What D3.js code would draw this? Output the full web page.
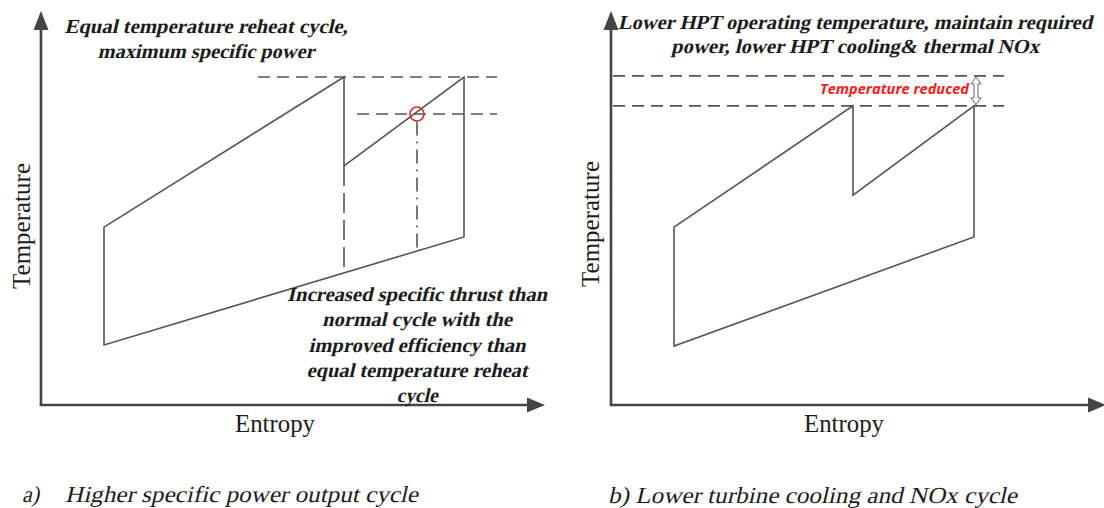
<!DOCTYPE html>
<html>
<head>
<meta charset="utf-8">
<script src="https://cdn.jsdelivr.net/npm/d3@7"></script>
<style>
  html, body { margin: 0; padding: 0; background: #fff; }
  svg { display: block; }
</style>
</head>
<body>
<svg id="chart" width="1104" height="508"></svg>
<script>
// ---- Panel a: higher specific power output cycle (T-s diagram) ----
const cycleA_entropy = [1.26, 1.26, 6.06, 6.06, 8.46, 8.46];
const cycleA_temp    = [1.54, 4.56, 8.41, 6.13, 8.41, 4.31];
// dashed isotherms: peak temperature and partial-reheat temperature
const isoA_temp = [8.41, 7.46];
const isoA_from = [4.34, 6.32];
const isoA_to   = [9.12, 9.12];
// partial reheat end point (circled)
const markA_entropy = [7.52];
const markA_temp    = [7.46];
// vertical dash-dot drop lines
const dropA_entropy = [6.06, 7.52];
const dropA_top     = [6.13, 7.27];
const dropA_bottom  = [3.38, 3.95];

// ---- Panel b: lower turbine cooling and NOx cycle ----
const cycleB_entropy = [1.26, 1.26, 4.84, 4.84, 7.26, 7.26];
const cycleB_temp    = [1.51, 4.56, 7.67, 5.38, 7.67, 4.31];
const isoB_temp = [8.44, 7.67];
const isoB_from = [0.04, 0.04];
const isoB_to   = [7.86, 7.86];
const reductionB_entropy = [7.30];
const reductionB_temp    = [8.44, 7.67];

// ---- Text ----
const titleA = ["Equal temperature reheat cycle,", "maximum specific power"];
const noteA  = ["Increased specific thrust than", "normal cycle with the",
                "improved efficiency than", "equal temperature reheat", "cycle"];
const titleB = ["Lower HPT operating temperature, maintain required",
                "power, lower HPT cooling& thermal NOx"];
const reducedLabel = "Temperature reduced";
const axisX = "Entropy", axisY = "Temperature";
const captionA = ["a)", "Higher specific power output cycle"];
const captionB = "b) Lower turbine cooling and NOx cycle";

const svg = d3.select("#chart");
const SERIF = "'Liberation Serif', 'Times New Roman', Times, serif";
const AXIS_COL = "#444";
const LINE_COL = "#555";
const TEXT_COL = "#1c1c1c";

function makePanel(x0, xTip) {
  const x = d3.scaleLinear().domain([0, 10]).range([x0, x0 + 500]);
  const y = d3.scaleLinear().domain([0, 10]).range([405, 15]);
  const g = svg.append("g");
  // axes with filled arrowheads
  g.append("line").attr("x1", x(0)).attr("y1", y(0)).attr("x2", x(0)).attr("y2", 28)
    .attr("stroke", AXIS_COL).attr("stroke-width", 2.6);
  g.append("path").attr("d", `M${x(0)},11 L${x(0) - 7.5},30 L${x(0) + 7.5},30 Z`).attr("fill", AXIS_COL);
  g.append("line").attr("x1", x(0) - 1.3).attr("y1", y(0)).attr("x2", xTip - 16).attr("y2", y(0))
    .attr("stroke", AXIS_COL).attr("stroke-width", 2.6);
  g.append("path").attr("d", `M${xTip},${y(0)} L${xTip - 18},${y(0) - 7.5} L${xTip - 18},${y(0) + 7.5} Z`)
    .attr("fill", AXIS_COL);
  return { x, y, g };
}

function drawCycle(p, sArr, tArr) {
  const pts = sArr.map((s, i) => [p.x(s), p.y(tArr[i])]);
  p.g.append("path")
    .attr("d", d3.line().curve(d3.curveLinearClosed)(pts))
    .attr("fill", "none").attr("stroke", LINE_COL).attr("stroke-width", 1.6)
    .attr("stroke-linejoin", "miter");
}

function drawIsotherms(p, tArr, fromArr, toArr) {
  tArr.forEach((t, i) => {
    p.g.append("line")
      .attr("x1", p.x(fromArr[i])).attr("x2", p.x(toArr[i]))
      .attr("y1", p.y(t)).attr("y2", p.y(t))
      .attr("stroke", LINE_COL).attr("stroke-width", 1.6)
      .attr("stroke-dasharray", "12,7");
  });
}

function axisLabels(p, yLabelX, yLabelCy, xLabelCx) {
  p.g.append("text").text(axisY)
    .attr("transform", `translate(${yLabelX},${yLabelCy}) rotate(-90)`)
    .attr("text-anchor", "middle").attr("font-family", SERIF).attr("font-size", 25)
    .attr("textLength", 126).attr("lengthAdjust", "spacingAndGlyphs")
    .attr("fill", TEXT_COL);
  p.g.append("text").text(axisX)
    .attr("x", xLabelCx).attr("y", 432)
    .attr("text-anchor", "middle").attr("font-family", SERIF).attr("font-size", 25)
    .attr("textLength", 80).attr("lengthAdjust", "spacingAndGlyphs")
    .attr("fill", TEXT_COL);
}

// slanted serif text: upright Times-style glyphs sheared into an italic
function slanted(g, t, x, y, anchor, width, size, weight) {
  return g.append("text").text(t)
    .attr("transform", `translate(${x},${y}) skewX(-13)`)
    .attr("text-anchor", anchor)
    .attr("textLength", width).attr("lengthAdjust", "spacingAndGlyphs")
    .attr("font-family", SERIF).attr("font-weight", weight)
    .attr("font-size", size).attr("fill", TEXT_COL);
}

// bold-italic annotation block; each line is fitted to its measured width
function boldItalicLines(g, lines, widths, cx, y0, dy, size) {
  lines.forEach((t, i) => slanted(g, t, cx, y0 + i * dy, "middle", widths[i], size, "bold"));
}

// ---- Panel a ----
const pa = makePanel(41, 545);
drawIsotherms(pa, isoA_temp, isoA_from, isoA_to);
dropA_entropy.forEach((s, i) => {
  pa.g.append("line")
    .attr("x1", pa.x(s)).attr("x2", pa.x(s))
    .attr("y1", pa.y(dropA_top[i])).attr("y2", pa.y(dropA_bottom[i]))
    .attr("stroke", LINE_COL).attr("stroke-width", 1.6)
    .attr("stroke-dasharray", i === 0 ? "20,7" : "14,6,2,6");
});
drawCycle(pa, cycleA_entropy, cycleA_temp);
pa.g.selectAll("circle.mark").data(markA_entropy).join("circle")
  .attr("class", "mark")
  .attr("cx", d => pa.x(d)).attr("cy", (d, i) => pa.y(markA_temp[i])).attr("r", 7)
  .attr("fill", "none").attr("stroke", "#e8262a").attr("stroke-width", 1.6);
axisLabels(pa, 30, 226, 275);
boldItalicLines(pa.g, titleA, [283, 217], 206, 33, 24.5, 20);
boldItalicLines(pa.g, noteA, [260, 190, 217, 221, 41], 417, 301, 25.3, 20);

// ---- Panel b ----
const pb = makePanel(611, 1106);
drawIsotherms(pb, isoB_temp, isoB_from, isoB_to);
drawCycle(pb, cycleB_entropy, cycleB_temp);
// hollow double-headed arrow marking the temperature reduction
{
  const ax = pb.x(reductionB_entropy[0]);
  const y1 = pb.y(reductionB_temp[0]) + 1, y2 = pb.y(reductionB_temp[1]) - 1;
  const h = 7, w = 5, s = 2;
  const d = `M${ax},${y1} L${ax + w},${y1 + h} L${ax + s},${y1 + h} L${ax + s},${y2 - h} ` +
            `L${ax + w},${y2 - h} L${ax},${y2} L${ax - w},${y2 - h} L${ax - s},${y2 - h} ` +
            `L${ax - s},${y1 + h} L${ax - w},${y1 + h} Z`;
  pb.g.append("path").attr("d", d).attr("fill", "#fff").attr("stroke", "#666").attr("stroke-width", 1);
}
pb.g.append("text").text(reducedLabel)
  .attr("x", 969).attr("y", 94).attr("text-anchor", "end")
  .attr("textLength", 149).attr("lengthAdjust", "spacingAndGlyphs")
  .attr("font-family", "'Open Sans', 'Noto Sans', sans-serif")
  .attr("font-weight", "bold").attr("font-style", "italic")
  .attr("font-size", 14).attr("fill", "#ff1a1a");
axisLabels(pb, 599, 224, 844);
boldItalicLines(pb.g, titleB, [474, 368], 855, 29, 24, 20);

// ---- Captions ----
slanted(svg, captionA[0], 22, 502, "start", 17, 23, "normal");
slanted(svg, captionA[1], 65, 502, "start", 353, 23, "normal");
slanted(svg, captionB, 608, 503, "start", 409, 23, "normal");
</script>
</body>
</html>
